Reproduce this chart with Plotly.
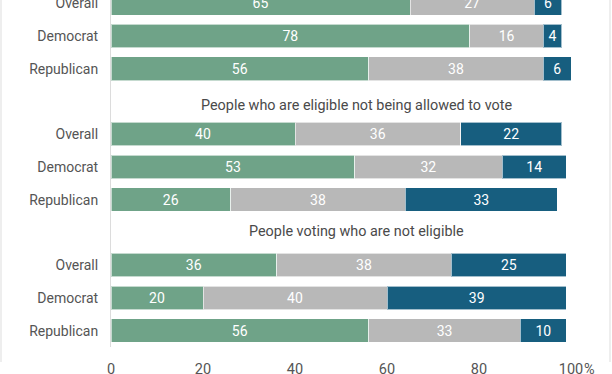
import plotly.graph_objects as go

groups = ["(cut off)", "People who are eligible not being allowed to vote", "People voting who are not eligible"]
rows = ["Overall", "Democrat", "Republican"]
series_names = ["A", "B", "C"]
values_a = [[65, 78, 56], [40, 53, 26], [36, 20, 56]]
values_b = [[27, 16, 38], [36, 32, 38], [38, 40, 33]]
values_c = [[6, 4, 6], [22, 14, 33], [25, 39, 10]]
x_ticks = [0, 20, 40, 60, 80, 100]

colors = ["#6fa388", "#b8b8b8", "#175e7f"]

# layout: each group occupies 4 row slots (3 bars + 1 title slot)
ypos, ylabels = [], []
for g in range(len(groups)):
    for i, r in enumerate(rows):
        ypos.append(g * 4 + i)
        ylabels.append(r)

fig = go.Figure()
for name, vals, col in zip(series_names, [values_a, values_b, values_c], colors):
    flat = [v for grp in vals for v in grp]
    fig.add_trace(go.Bar(
        y=ypos, x=flat, orientation="h", name=name,
        marker=dict(color=col, line=dict(color="rgba(255,255,255,0.6)", width=1)),
        width=0.72,
        text=[str(v) for v in flat], textposition="inside", insidetextanchor="middle",
        textfont=dict(family="Roboto", size=14, color="white"),
        textangle=0, hoverinfo="skip",
    ))

plot_l, plot_r, plot_t, plot_b = 111, 41, 0, 27
W, H = 612, 374
pw, ph = W - plot_l - plot_r, H - plot_t - plot_b

def px_to_paper_x(px):
    return (px - plot_l) / pw

def px_to_paper_y(py):
    return (H - plot_b - py) / ph

fig.update_layout(
    width=W, height=H, barmode="stack", showlegend=False,
    margin=dict(l=plot_l, r=plot_r, t=plot_t, b=plot_b, pad=0),
    plot_bgcolor="white", paper_bgcolor="white",
    font=dict(family="Roboto", color="#555555"),
)
fig.update_xaxes(
    range=[0, 100], tickvals=x_ticks, ticktext=[str(t) for t in x_ticks],
    showgrid=False, zeroline=False, showline=False, automargin=False,
    ticks="outside", ticklen=9, tickcolor="rgba(0,0,0,0)",
    tickfont=dict(family="Roboto", size=14.5, color="#555555"),
    ticklabeloverflow="allow",
)
fig.update_yaxes(
    range=[10.498, -0.098], tickvals=ypos, ticktext=ylabels,
    showgrid=False, zeroline=False, showline=True, linecolor="#dcdcdc", linewidth=1,
    automargin=False,
    ticks="outside", ticklen=9, tickcolor="rgba(0,0,0,0)",
    tickfont=dict(family="Roboto", size=14, color="#555555"),
    ticklabeloverflow="allow",
)

# subtitles for visible groups
sub_y = [None, 3.11, 6.96]
for g, title in enumerate(groups):
    if sub_y[g] is None:
        continue
    fig.add_annotation(text=title, x=px_to_paper_x(356), xref="paper", y=sub_y[g], yref="y",
                       showarrow=False, xanchor="center", yanchor="middle",
                       font=dict(family="Roboto", size=14.4, color="#4a4a4a"))

fig.add_annotation(text="%", x=px_to_paper_x(582), xref="paper", y=px_to_paper_y(369), yref="paper",
                   showarrow=False, xanchor="left", yanchor="middle",
                   font=dict(family="Roboto", size=14.5, color="#555555"))

# outer frame lines
for px in (1, 610):
    fig.add_shape(type="line", xref="paper", yref="paper",
                  x0=px_to_paper_x(px), x1=px_to_paper_x(px),
                  y0=px_to_paper_y(0), y1=px_to_paper_y(362),
                  line=dict(color="#dddddd", width=1))

fig.write_html("out.html", config={"displayModeBar": False},
               post_script="document.body.style.margin='0';document.body.style.overflow='hidden';")
